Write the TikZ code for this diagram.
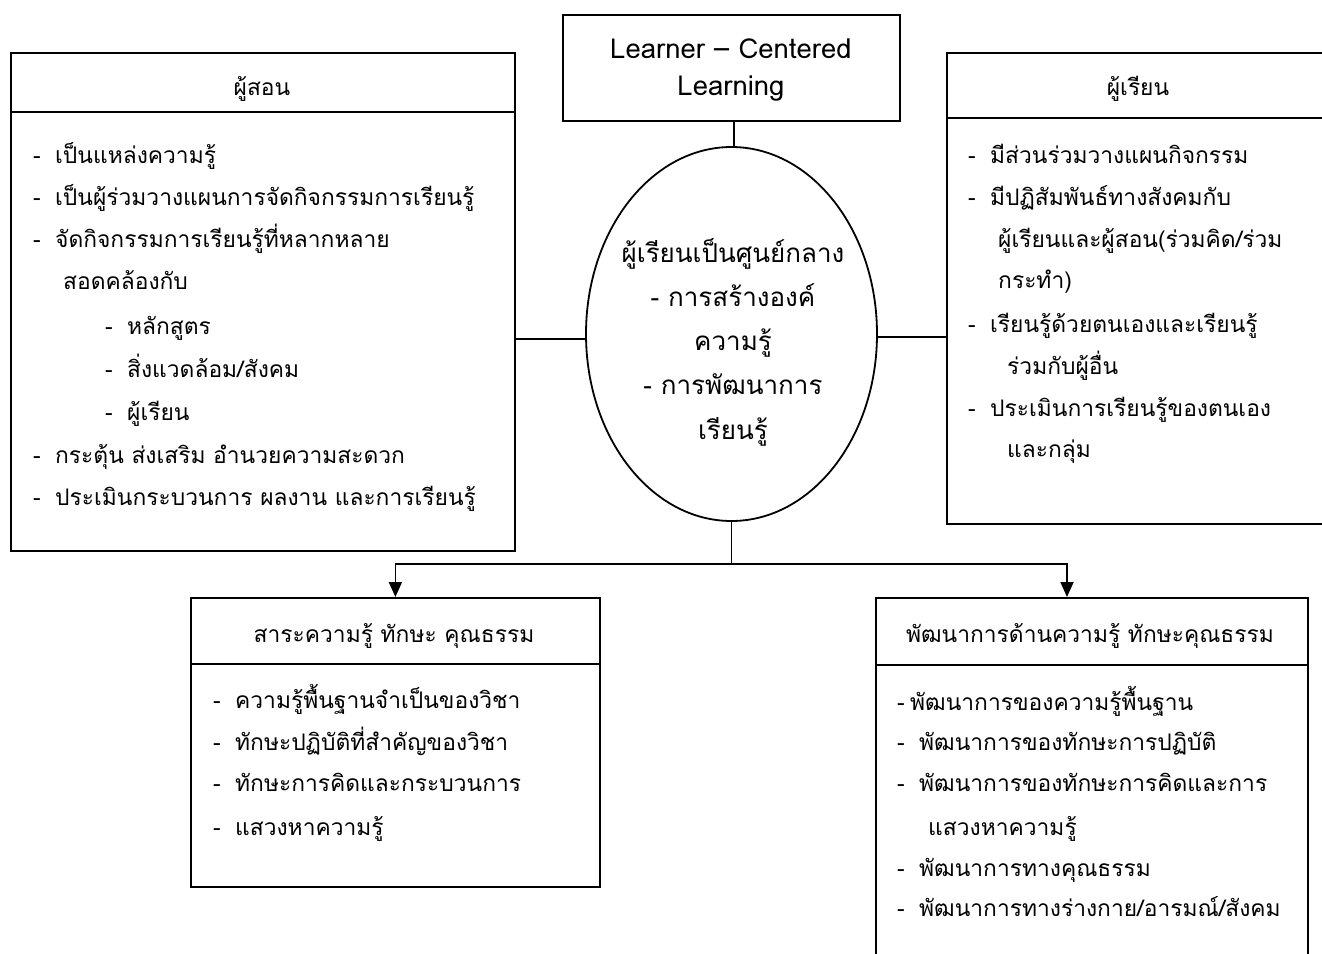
\documentclass[tikz,border=0pt]{standalone}
\usepackage{fontspec}
\newfontfamily\thai[Script=Thai]{Loma}
\usetikzlibrary{shapes.geometric,arrows.meta,calc}
\newcommand\dashitem{\makebox[22pt][l]{-}}
\newcommand\shortdash{\makebox[13pt][l]{-}}
\begin{document}
\begin{tikzpicture}[x=1pt,y=-1pt,
  box/.style={draw,line width=1.8pt,rectangle,anchor=north west,inner sep=0pt},
  txt/.style={font=\thai\fontsize{22.8}{27}\selectfont,inner sep=0pt,anchor=base west},
  head/.style={font=\thai\fontsize{22.8}{27}\selectfont,inner sep=0pt,anchor=base},
  ctxt/.style={font=\thai\fontsize{26}{30}\selectfont,inner sep=0pt,anchor=base},
  ltxt/.style={font=\thai\fontsize{27.5}{32}\selectfont,inner sep=0pt,anchor=base},
  conn/.style={line width=1.8pt},
  arr/.style={line width=1.8pt,-{Triangle[width=13pt,length=15pt]}}]
\clip (0,0) rectangle (1322,953);
\fill[white] (0,0) rectangle (1322,953);

% top box
\node[box,minimum width=337pt,minimum height=106pt] (learn) at (562,14) {};
\node[ltxt] (l1) at (731,58) {Learner – Centered};
\node[ltxt] (l2) at (731,95) {Learning};

% ellipse
\node[draw,ellipse,line width=1.8pt,minimum width=291pt,minimum height=374pt,inner sep=0pt] (cen) at (731.5,334) {};
\node[ctxt] (c1) at (733,262) {ผู้เรียนเป็นศูนย์กลาง};
\node[ctxt] (c2) at (733,306) {- การสร้างองค์};
\node[ctxt] (c3) at (733,350) {ความรู้};
\node[ctxt] (c4) at (733,394) {- การพัฒนาการ};
\node[ctxt] (c5) at (733,439) {เรียนรู้};

% left box
\node[box,minimum width=504pt,minimum height=498pt] (teach) at (10,52) {};
\draw[conn] ($(teach.north west)+(0,60)$) coordinate (td1) -- ($(teach.north east)+(0,60)$) coordinate (td2);
\node[head] (th) at (262,95) {ผู้สอน};
\node[txt] (ta) at (33,163) {\dashitem เป็นแหล่งความรู้};
\node[txt] (tb) at (33,205) {\dashitem เป็นผู้ร่วมวางแผนการจัดกิจกรรมการเรียนรู้};
\node[txt] (tc) at (33,247) {\dashitem จัดกิจกรรมการเรียนรู้ที่หลากหลาย};
\node[txt] (td) at (63,289) {สอดคล้องกับ};
\node[txt] (te) at (105,334) {\dashitem หลักสูตร};
\node[txt] (tf) at (105,377) {\dashitem สิ่งแวดล้อม/สังคม};
\node[txt] (tg) at (105,420) {\dashitem ผู้เรียน};
\node[txt] (tt) at (33,463) {\dashitem กระตุ้น ส่งเสริม อำนวยความสะดวก};
\node[txt] (ti) at (33,505) {\dashitem ประเมินกระบวนการ ผลงาน และการเรียนรู้};

% right box
\node[box,minimum width=384pt,minimum height=471pt] (stud) at (946,52) {};
\draw[conn] ($(stud.north west)+(0,66)$) coordinate (sd1) -- ($(stud.north east)+(0,66)$) coordinate (sd2);
\node[head] (sh) at (1138,95) {ผู้เรียน};
\node[txt] (sa) at (968,163) {\dashitem มีส่วนร่วมวางแผนกิจกรรม};
\node[txt] (sb) at (968,205) {\dashitem มีปฏิสัมพันธ์ทางสังคมกับ};
\node[txt] (sc) at (998,247) {ผู้เรียนและผู้สอน(ร่วมคิด/ร่วม};
\node[txt] (sd) at (998,288) {กระทำ)};
\node[txt] (se) at (968,332) {\dashitem เรียนรู้ด้วยตนเองและเรียนรู้};
\node[txt] (sf) at (1007,374) {ร่วมกับผู้อื่น};
\node[txt] (sg) at (968,416) {\dashitem ประเมินการเรียนรู้ของตนเอง};
\node[txt] (sh2) at (1007,457) {และกลุ่ม};

% bottom left box
\node[box,minimum width=409pt,minimum height=289pt] (cont) at (190,597) {};
\draw[conn] ($(cont.north west)+(0,67)$) coordinate (cd1) -- ($(cont.north east)+(0,67)$) coordinate (cd2);
\node[head] (ch) at (394,642) {สาระความรู้ ทักษะ คุณธรรม};
\node[txt] (ca) at (213,708) {\dashitem ความรู้พื้นฐานจำเป็นของวิชา};
\node[txt] (cb) at (213,750) {\dashitem ทักษะปฏิบัติที่สำคัญของวิชา};
\node[txt] (cc) at (213,791) {\dashitem ทักษะการคิดและกระบวนการ};
\node[txt] (cdd) at (213,835) {\dashitem แสวงหาความรู้};

% bottom right box
\node[box,minimum width=432pt,minimum height=370pt] (dev) at (875,597) {};
\draw[conn] ($(dev.north west)+(0,68)$) coordinate (dd1) -- ($(dev.north east)+(0,68)$) coordinate (dd2);
\node[head] (dh) at (1090,642) {พัฒนาการด้านความรู้ ทักษะคุณธรรม};
\node[txt] (da) at (897,710) {\shortdash พัฒนาการของความรู้พื้นฐาน};
\node[txt] (db) at (897,750) {\dashitem พัฒนาการของทักษะการปฏิบัติ};
\node[txt] (dc) at (897,791) {\dashitem พัฒนาการของทักษะการคิดและการ};
\node[txt] (dd) at (928,835) {แสวงหาความรู้};
\node[txt] (de) at (897,876) {\dashitem พัฒนาการทางคุณธรรม};
\node[txt] (df) at (897,916) {\dashitem พัฒนาการทางร่างกาย/อารมณ์/สังคม};

% connectors
\draw[conn] (learn.south -| 734,0) -- (cen.north -| 734,0);
\draw[conn] ($(cen.west)+(0,5)$) -- (teach.east |- {$(cen.west)+(0,5)$});
\draw[conn] ($(cen.east)+(0,3)$) -- (stud.west |- {$(cen.east)+(0,3)$});
\draw[conn] (cen.south) -- ++(0,42) coordinate (j);
\coordinate (a3) at (cont.north);
\coordinate (a4) at ($(dev.north west)+(192,0)$);
\draw[arr] (j) -| (a3);
\draw[arr] (j) -| (a4);
\end{tikzpicture}
\end{document}
